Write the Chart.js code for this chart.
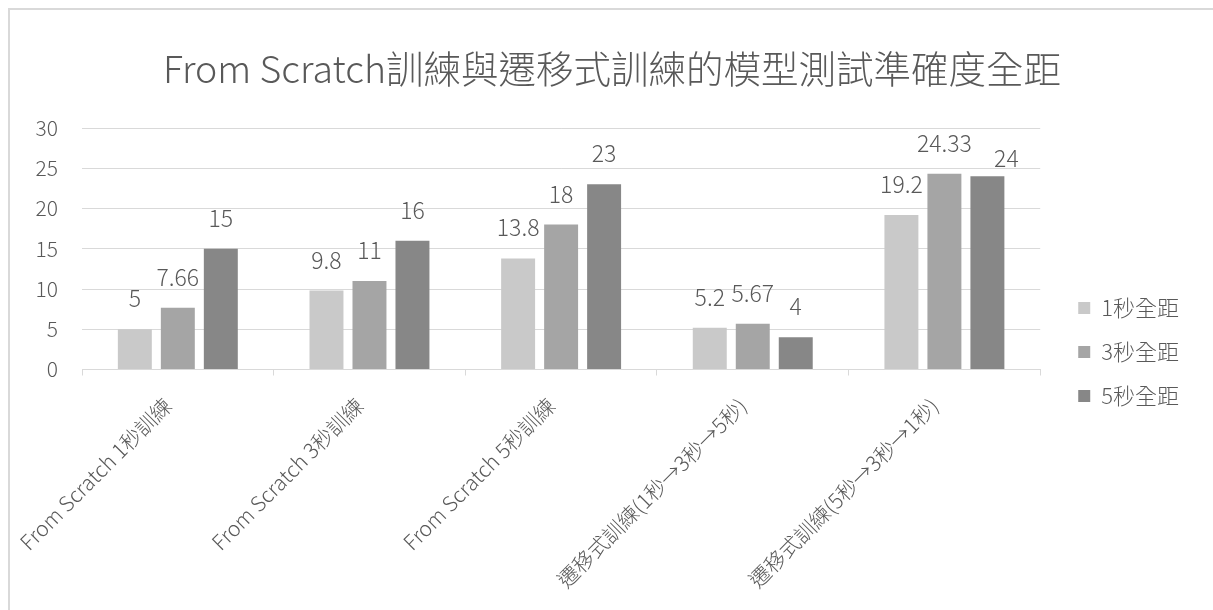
<!DOCTYPE html>
<html>
<head>
<meta charset="utf-8">
<script src="https://cdn.jsdelivr.net/npm/chart.js@4"></script>
<style>
  html, body { margin: 0; padding: 0; background: #fff; }
  #frame {
    position: absolute; left: 8px; top: 8px;
    width: 1205px; height: 602px;
    border-left: 2px solid #d9d9d9; border-top: 2px solid #d9d9d9;
  }
  canvas { display: block; }
</style>
</head>
<body>
<div id="frame"><canvas id="accuracyChart" width="1203" height="600"></canvas></div>
<script>
"use strict";

const categories = [
  "From Scratch 1秒訓練",
  "From Scratch 3秒訓練",
  "From Scratch 5秒訓練",
  "遷移式訓練(1秒→3秒→5秒)",
  "遷移式訓練(5秒→3秒→1秒)",
];
const seriesNames = ["1秒全距", "3秒全距", "5秒全距"];
const range1s = [5, 9.8, 13.8, 5.2, 19.2];
const range3s = [7.66, 11, 18, 5.67, 24.33];
const range5s = [15, 16, 23, 4, 24];
const barColors = ["#c9c9c9", "#a5a5a5", "#878787"];

const textColor = "#595959";
const gridColor = "#d9d9d9";
const fontStack = '"Noto Sans CJK TC", "Noto Sans", sans-serif';

Chart.defaults.font.family = fontStack;
Chart.defaults.font.weight = "300";
Chart.defaults.color = textColor;

// value labels above each bar; the last dark label is pushed aside
// so it does not run into 24.33
const labelNudge = { "2:4": { dx: 19, dy: 13 } };

const barValueLabels = {
  id: "barValueLabels",
  afterDatasetsDraw(chart) {
    const ctx = chart.ctx;
    ctx.save();
    ctx.font = "300 23px " + fontStack;
    ctx.fillStyle = textColor;
    ctx.textAlign = "center";
    ctx.textBaseline = "alphabetic";
    chart.data.datasets.forEach((dataset, i) => {
      const meta = chart.getDatasetMeta(i);
      meta.data.forEach((bar, j) => {
        const nudge = labelNudge[i + ":" + j] || { dx: 0, dy: 0 };
        ctx.fillText(String(dataset.data[j]), bar.x + nudge.dx, bar.y - 22 + nudge.dy);
      });
    });
    ctx.restore();
  },
};

const seriesData = [range1s, range3s, range5s];

new Chart(document.getElementById("accuracyChart"), {
  type: "bar",
  data: {
    labels: categories,
    datasets: seriesNames.map((name, i) => ({
      label: name,
      data: seriesData[i],
      backgroundColor: barColors[i],
      borderWidth: 0,
      categoryPercentage: 0.673,
      barPercentage: 0.79,
    })),
  },
  options: {
    responsive: false,
    animation: false,
    layout: { padding: { left: 25, right: 24, bottom: 0 } },
    plugins: {
      title: {
        display: true,
        text: "From Scratch訓練與遷移式訓練的模型測試準確度全距",
        color: textColor,
        font: { size: 37.5, weight: "300" },
        padding: { top: 36, bottom: 37 },
      },
      legend: {
        position: "right",
        // empty title only pushes the entries down
        title: { display: true, text: "", font: { size: 10 }, padding: { top: 0, bottom: 72 } },
        labels: {
          boxWidth: 12,
          boxHeight: 12,
          padding: 22,
          color: textColor,
          font: { size: 22 },
        },
      },
      tooltip: { enabled: false },
    },
    scales: {
      x: {
        grid: {
          display: true,
          drawOnChartArea: false,
          drawTicks: true,
          tickLength: 6,
          color: gridColor,
        },
        border: { display: true, color: gridColor, width: 1 },
        ticks: {
          minRotation: 45,
          maxRotation: 45,
          padding: 17.5,
          labelOffset: -10,
          color: textColor,
          font: { size: 21 },
        },
        // let the rotated labels run into the left margin
        afterFit(scale) {
          scale.paddingLeft = 0;
          scale.paddingRight = 0;
        },
      },
      y: {
        min: 0,
        max: 30,
        grid: { color: gridColor, drawTicks: false },
        border: { display: false },
        ticks: {
          stepSize: 5,
          padding: 24,
          color: textColor,
          font: { size: 21 },
        },
        afterFit(scale) {
          scale.width = 47;
        },
      },
      // empty strip between the plot and the legend
      gap: {
        position: "right",
        grid: { display: false },
        border: { display: false },
        ticks: { display: false },
        afterFit(scale) {
          scale.width = 16;
        },
      },
    },
  },
  plugins: [barValueLabels],
});
</script>
</body>
</html>
